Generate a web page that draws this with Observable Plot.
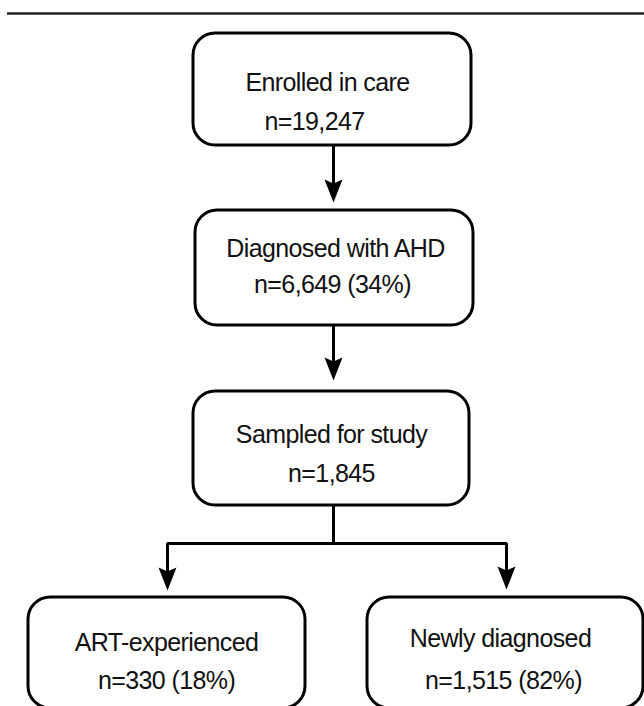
<!DOCTYPE html>
<html><head><meta charset="utf-8">
<script src="https://cdn.jsdelivr.net/npm/d3@7"></script>
<script src="https://cdn.jsdelivr.net/npm/@observablehq/plot@0.6"></script>
<style>body{margin:0;background:#fff}#chart svg{display:block}</style>
</head><body><div id="chart"></div>
<script>
// ---- data ----
const stages   = ["Enrolled in care", "Diagnosed with AHD", "Sampled for study", "ART-experienced", "Newly diagnosed"];
const counts   = [19247, 6649, 1845, 330, 1515];
const percents = [null, 34, null, 18, 82];
const edgeFrom = [0, 1, 2, 2];
const edgeTo   = [1, 2, 3, 4];

// ---- layout (pixels) ----
const boxX1 = [193, 195, 193, 28, 367];
const boxX2 = [471, 473, 469, 305, 643];
const boxY1 = [33, 210, 391, 597, 597];
const boxY2 = [145, 325, 505, 708, 708];
const line1X = [327, 335, 331, 166, 500];
const line1Y = [90, 256, 442, 650, 646];
const line2X = [314, 332, 331, 166, 503];
const line2Y = [129, 292, 481, 688, 688];
const arrowX = [333, 333, 167, 506];
const arrowTip = [202, 380, 590, 589];
const branchY = 543;
const headLen = 23, headHalf = 9, notchDepth = 4;

const fmt = d3.format(",");
const boxes = stages.map((s, i) => ({
  i, x1: boxX1[i], x2: boxX2[i], y1: boxY1[i], y2: boxY2[i],
  l1: s, l2: `n=${fmt(counts[i])}` + (percents[i] != null ? ` (${percents[i]}%)` : ""),
  t1x: line1X[i], t1y: line1Y[i], t2x: line2X[i], t2y: line2Y[i]
}));

const shafts = [];
edgeFrom.forEach((f, k) => {
  const notch = arrowTip[k] - headLen + notchDepth + 1;
  if (f === 2) {
    const cx = 333;
    shafts.push({k, x: cx, y: boxY2[f]}, {k, x: cx, y: branchY}, {k, x: arrowX[k], y: branchY}, {k, x: arrowX[k], y: notch});
  } else {
    shafts.push({k, x: arrowX[k], y: boxY2[f]}, {k, x: arrowX[k], y: notch});
  }
});
const heads = edgeTo.map((t, k) => ({x: arrowX[k], y: arrowTip[k] - headLen}));

const stealth = {
  draw(context, l, r) {
    context.moveTo(0, -notchDepth);
    context.lineTo(-r, 0);
    context.lineTo(0, -l);
    context.lineTo(r, 0);
    context.closePath();
  }
};

const chart = Plot.plot({
  width: 644, height: 706, margin: 0,
  x: {type: "linear", domain: [0, 644], range: [0, 644], axis: null},
  y: {type: "linear", domain: [0, 706], range: [0, 706], axis: null},
  style: {fontFamily: "'Liberation Sans', Arial, sans-serif", letterSpacing: "-0.6px", background: "#fff"},
  marks: [
    Plot.ruleY([13], {x1: 7, x2: 644, stroke: "#222", strokeWidth: 2.5}),
    Plot.line(shafts, {x: "x", y: "y", z: "k", stroke: "#000", strokeWidth: 3, strokeLinejoin: "miter", strokeLinecap: "butt", curve: "linear"}),
    Plot.vector(heads, {x: "x", y: "y", length: headLen, r: headHalf, rotate: 180, anchor: "start", shape: stealth, fill: "#000", stroke: "none"}),
    Plot.rect(boxes, {x1: "x1", x2: "x2", y1: "y1", y2: "y2", rx: 22, ry: 22, fill: "#fff", stroke: "#000", strokeWidth: 3}),
    Plot.text(boxes, {x: "t1x", y: "t1y", text: "l1", fontSize: 25, fill: "#111", textAnchor: "middle", lineAnchor: "bottom"}),
    Plot.text(boxes, {x: "t2x", y: "t2y", text: "l2", fontSize: 25, fill: "#111", textAnchor: "middle", lineAnchor: "bottom"})
  ]
});
document.getElementById("chart").appendChild(chart);
</script>
</body></html>
